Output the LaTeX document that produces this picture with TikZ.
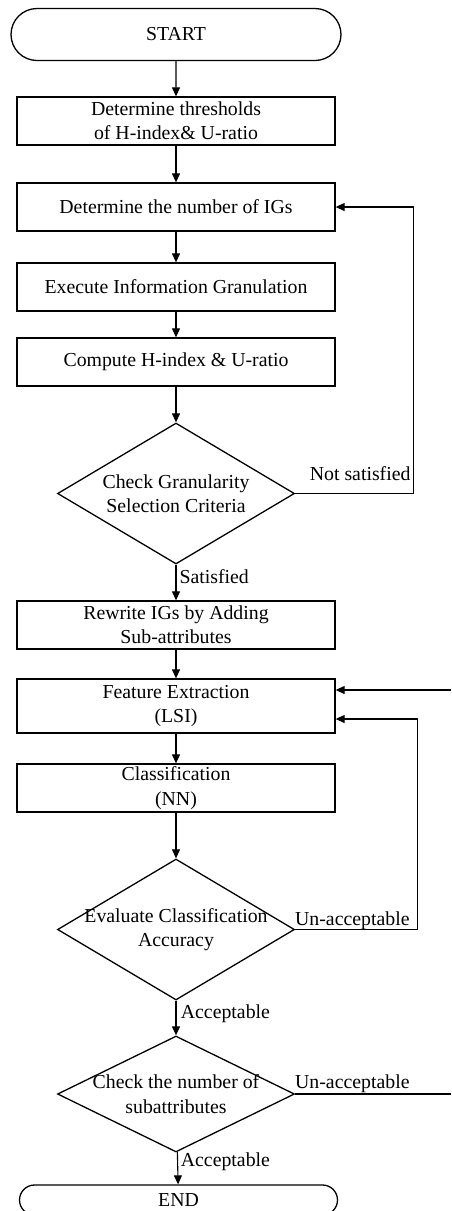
\documentclass[tikz,border=0pt]{standalone}
\usepackage{fontspec}
\setmainfont{Liberation Serif}
\usetikzlibrary{shapes.geometric,shapes.misc,arrows.meta}

\begin{document}
\begin{tikzpicture}[
  x=1pt, y=-1pt,
  every node/.style={font=\fontsize{19.8}{24.3}\selectfont},
  terminal/.style={draw, line width=1.3pt, rounded rectangle, minimum width=330pt, minimum height=52pt, inner sep=0pt},
  process/.style={draw, line width=1.3pt, minimum width=318pt, minimum height=48pt, align=center, inner sep=0pt},
  decision/.style={draw, line width=1.3pt, diamond, minimum width=237pt, minimum height=141pt, inner sep=0pt},
  flow/.style={-{Triangle[length=9pt,width=8pt]}, line width=1.1pt},
  tag/.style={inner sep=0pt},
]
\useasboundingbox (0,0) rectangle (451,1211);

% main column
\node[terminal] (start) at (176,34.5) {START};
\node[process] (thr) at (176,121) {Determine thresholds\\of H-index\& U-ratio};
\node[process] (num) at (176,207) {Determine the number of IGs};
\node[process] (exe) at (176,287) {Execute Information Granulation};
\node[process] (comp) at (176,362) {Compute H-index \& U-ratio};
\node[decision, label={[align=center]center:Check Granularity\\Selection Criteria}] (chk) at (176,493.5) {};
\node[process] (rew) at (176,625) {Rewrite IGs by Adding\\Sub-attributes};
\node[process, minimum height=54pt] (feat) at (176,706) {Feature Extraction\\(LSI)};
\node[process] (cls) at (176,788) {Classification\\(NN)};
\node[decision, label={[align=center]center:Evaluate Classification\\Accuracy}] (eval) at (176,929.5) {};
\node[decision, minimum height=116pt, label={[align=center]center:Check the number of\\subattributes}] (sub) at (176,1094) {};
\node[draw, line width=1.3pt, rounded rectangle, minimum width=318pt, minimum height=30pt, inner sep=0pt] (end) at (178.5,1200) {END};

\foreach \a/\b in {start/thr,thr/num,num/exe,exe/comp,comp/chk,chk/rew,rew/feat,feat/cls,cls/eval,eval/sub,sub/end}
  \draw[flow] (\a) -- (\b);

% loops back
\coordinate (loopA) at (413.3,493.5);
\coordinate (loopB) at (417.3,929.5);
\coordinate (exitC) at (451,1094);
\coordinate (entryC) at (451,690);
\draw[flow] (chk.east) -- (loopA) |- (num.east);
\draw[flow] (eval.east) -- (loopB) |- ([yshift=-13pt]feat.east);
\draw[line width=1.1pt] (sub.east) -- (exitC);
\draw[flow] (entryC) -- ([yshift=16pt]feat.east);

% labels
\node[tag, anchor=base east] (nsat) at (410.7,480) {Not satisfied};
\node[tag, anchor=base west] (sat) at (179.3,583) {Satisfied};
\node[tag, anchor=base west] (unacc1) at (295,925) {Un-acceptable};
\node[tag, anchor=base west] (acc1) at (180.7,1018) {Acceptable};
\node[tag, anchor=base west] (unacc2) at (295,1088.5) {Un-acceptable};
\node[tag, anchor=base west] (acc2) at (180.7,1166.5) {Acceptable};
\end{tikzpicture}
\end{document}
